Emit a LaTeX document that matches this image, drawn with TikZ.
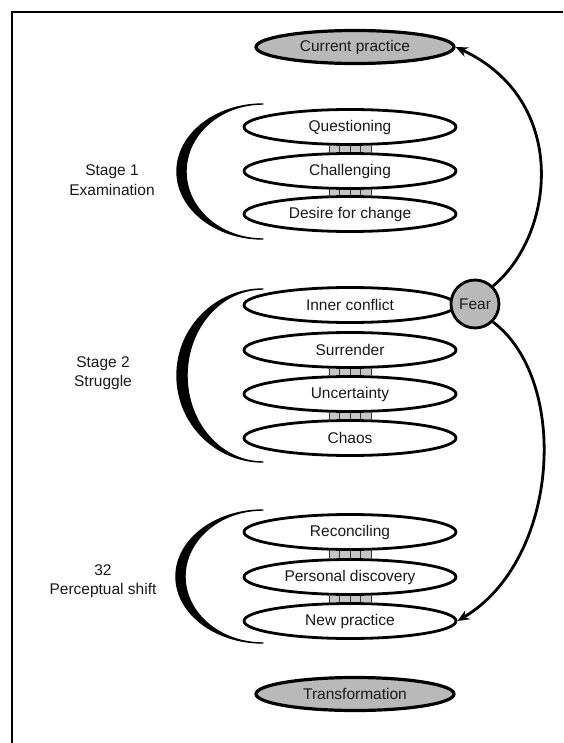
\documentclass[tikz,border=0pt]{standalone}
\usepackage{fontspec}
\setmainfont{Liberation Sans}
\usetikzlibrary{shapes.geometric,arrows.meta}
\begin{document}
\begin{tikzpicture}[x=1pt,y=-1pt,
  every node/.style={font=\fontsize{15.5}{19.5}\selectfont, text=black!90},
  stepell/.style={ellipse, draw, line width=2.8pt, minimum width=212pt, minimum height=35pt, inner sep=0pt, fill=white},
  endell/.style={ellipse, draw, line width=3.2pt, fill=gray!55, minimum width=198pt, minimum height=33pt, inner sep=0pt},
  fearnode/.style={circle, draw, line width=2.8pt, fill=gray!55, minimum size=48pt, inner sep=0pt},
  flow/.style={line width=2.8pt, -{Stealth[length=12pt,width=10pt]}},
  brace/.style={fill=black, draw=black, line width=1.4pt, line join=round},
  stagelabel/.style={align=center},
  rung/.style={line width=1pt, black!80}]
\useasboundingbox (0,0) rectangle (563,743);
% page frame
\draw[line width=1.3pt] (563,12) -- (12,12) -- (12,743);

% start and end states
\node[endell] (cp) at (355,47) {Current practice};
\node[endell] (tr) at (355,694) {Transformation};

% stage 1
\node[stepell] (q)  at (350,127) {Questioning};
\node[stepell] (ch) at (350,171) {Challenging};
\node[stepell] (dc) at (350,214) {Desire for change};
% stage 2
\node[stepell] (ic) at (350,305) {Inner conflict};
\node[stepell] (su) at (350,350) {Surrender};
\node[stepell] (un) at (350,394) {Uncertainty};
\node[stepell] (ca) at (350,438) {Chaos};
% stage 3
\node[stepell] (re) at (350,532) {Reconciling};
\node[stepell] (pd) at (350,577) {Personal discovery};
\node[stepell] (np) at (350,621) {New practice};

% short links joining neighbouring rings of the coil
\newcommand\coillink[2]{%
  \fill[gray!45] ([xshift=-21pt]#1.south) rectangle ([xshift=21pt]#2.north);
  \foreach \dx in {-21,-10.5,0,10.5,21}
    \draw[rung] ([xshift=\dx pt]#1.south) -- ([xshift=\dx pt]#2.north);}
\coillink{q}{ch}
\coillink{ch}{dc}
\coillink{su}{un}
\coillink{un}{ca}
\coillink{re}{pd}
\coillink{pd}{np}

% stage brackets
\filldraw[brace] (263,104) .. controls (215.5,104) and (177,134.2) .. (177,171.5)
  .. controls (177,208.8) and (215.5,239) .. (263,239)
  .. controls (220.5,239) and (186,208.8) .. (186,171.5)
  .. controls (186,134.2) and (220.5,104) .. (263,104) -- cycle;
\filldraw[brace] (263,289) .. controls (215.5,289) and (177,327.75) .. (177,375.5)
  .. controls (177,423.25) and (215.5,462) .. (263,462)
  .. controls (221,462) and (187,423.25) .. (187,375.5)
  .. controls (187,327.75) and (221,289) .. (263,289) -- cycle;
\filldraw[brace] (263,510) .. controls (215,510) and (176,539.8) .. (176,576.5)
  .. controls (176,613.2) and (215,643) .. (263,643)
  .. controls (220,643) and (185,613.2) .. (185,576.5)
  .. controls (185,539.8) and (220,510) .. (263,510) -- cycle;

% stage labels
\node[stagelabel] (s1) at (112,180) {Stage 1\\Examination};
\node[stagelabel] (s2) at (103,373) {Stage 2\\Struggle};
\node[stagelabel] (s3) at (103,581) {32\\Perceptual shift};

% fear
\node[fearnode] (fear) at (475,304) {Fear};

% fear loops
\draw[flow] (fear.45) .. controls (555,235) and (570,100) .. (cp.east);
\draw[flow] (fear.-45) .. controls (570,380) and (560,560) .. (np.east);
\end{tikzpicture}
\end{document}
